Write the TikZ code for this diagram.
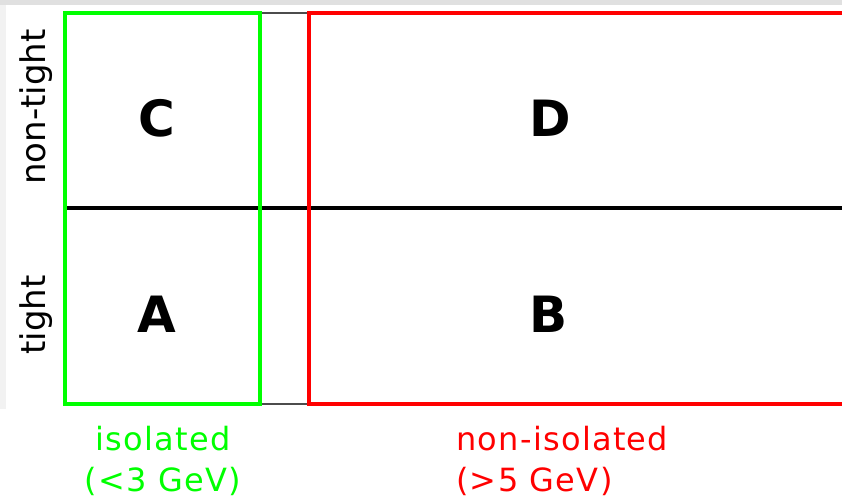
\documentclass[tikz,border=0pt]{standalone}
\usepackage{fontspec}
\setmainfont{DejaVu Sans}
\newfontfamily\spacedfont[LetterSpace=4]{DejaVu Sans}
\definecolor{bgreen}{RGB}{0,255,0}
\definecolor{bred}{RGB}{255,0,0}
\tikzset{
  region/.style={font=\fontsize{50}{50}\selectfont\bfseries, inner sep=0pt},
  axislabel/.style={font=\fontsize{34}{34}\selectfont, inner sep=0pt, rotate=90},
  catlabel/.style={font=\spacedfont\fontsize{32}{41}\selectfont, inner sep=0pt},
  thinlink/.style={draw=black!70, line width=1.5pt},
}
\begin{document}
\begin{tikzpicture}[x=1pt,y=-1pt]
\useasboundingbox (0,0) rectangle (842,503);
% light background
\fill[black!12] (0,0) rectangle (842,5.5);
\fill[black!5] (0,5.5) rectangle (6,409);
% boxes
\coordinate (gtl) at (65,13);
\coordinate (gbl) at (65,404);
\coordinate (gtr) at (260,13);
\coordinate (gbr) at (260,404);
\coordinate (rtl) at (309,13);
\coordinate (rbl) at (309,404);
\coordinate (rtr) at (845,13);
\coordinate (rbr) at (845,404);
\coordinate (ml) at (63,208);
\coordinate (mr) at (845,208);
\draw[thinlink] (gtr) -- (rtl);
\draw[thinlink] (gbr) -- (rbl);
\draw[black, line width=3.5pt] (ml) -- (mr);
\draw[bgreen, line width=4pt] (gtl) rectangle (gbr);
\draw[bred, line width=4pt] (rtr) -- (rtl) -- (rbl) -- (rbr);
% region letters
\node[region] (C) at (157,118) {C};
\node[region] (D) at (550,118) {D};
\node[region] (A) at (157,314) {A};
\node[region] (B) at (549,314) {B};
% axis labels
\node[axislabel] (nt) at (36,107) {non-tight};
\node[axislabel] (t) at (36,315) {tight};
\node[catlabel, text=bgreen, align=center, anchor=north] (iso) at (163,426) {isolated\\(<3 GeV)};
\node[catlabel, text=bred, align=left, anchor=north west] (noniso) at (456,426) {non-isolated\\(>5 GeV)};
\end{tikzpicture}
\end{document}
